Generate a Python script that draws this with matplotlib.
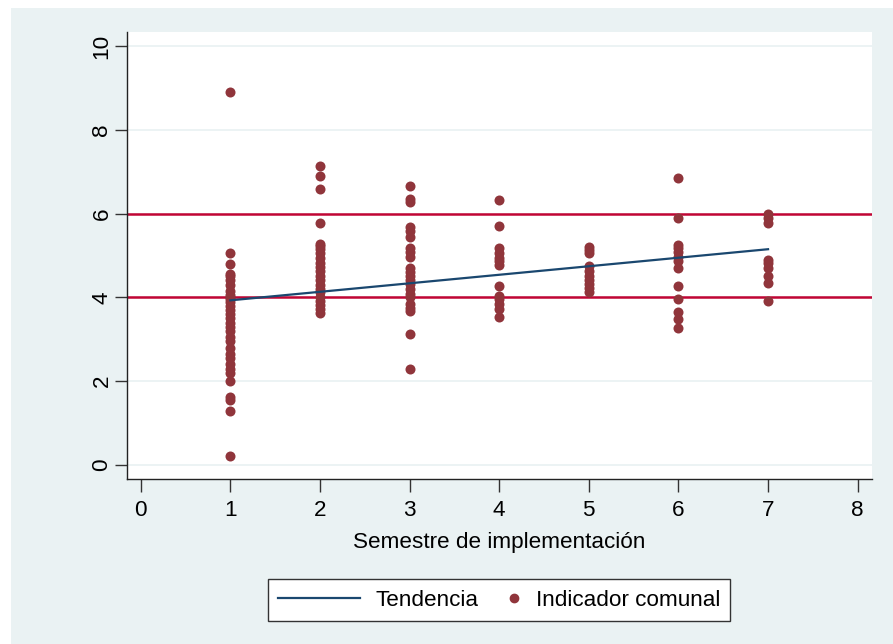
import matplotlib
matplotlib.use("Agg")
import matplotlib.pyplot as plt
from matplotlib.patches import Rectangle
from matplotlib.legend_handler import HandlerLine2D
from matplotlib.lines import Line2D

# indicator values per semester
sem1 = [8.9, 5.05, 4.8, 4.55, 4.5, 4.42, 4.3, 4.15, 4.05, 4.0, 3.95, 3.9, 3.8, 3.7,
        3.6, 3.5, 3.4, 3.3, 3.2, 3.05, 2.95, 2.8, 2.65, 2.55, 2.4, 2.3, 2.2, 2.0,
        1.62, 1.55, 1.28, 0.22]
sem2 = [7.13, 6.89, 6.58, 5.78, 5.28, 5.22, 5.15, 5.05, 4.95, 4.82, 4.72, 4.62,
        4.5, 4.42, 4.3, 4.2, 4.12, 4.02, 3.92, 3.82, 3.72, 3.62]
sem3 = [6.65, 6.36, 6.27, 5.68, 5.58, 5.43, 5.17, 5.08, 4.96, 4.69, 4.6, 4.52,
        4.42, 4.33, 4.2, 4.09, 4.0, 3.85, 3.75, 3.68, 3.13, 2.3]
sem4 = [6.33, 5.7, 5.17, 5.05, 4.95, 4.86, 4.78, 4.28, 4.04, 3.95, 3.85, 3.73, 3.53]
sem5 = [5.2, 5.12, 5.06, 4.74, 4.62, 4.52, 4.42, 4.32, 4.22, 4.12]
sem6 = [6.84, 5.89, 5.24, 5.17, 5.08, 4.96, 4.88, 4.69, 4.28, 3.97, 3.66, 3.49, 3.26]
sem7 = [5.98, 5.89, 5.77, 4.9, 4.81, 4.69, 4.52, 4.35, 3.92]
semesters = [1, 2, 3, 4, 5, 6, 7]

trend_x = [1, 7]
trend_y = [3.93, 5.15]
ref_lines = [4, 6]

xticks = list(range(0, 9))
yticks = [0, 2, 4, 6, 8, 10]

BG = "#eaf2f3"
MAROON = "#90353b"
NAVY = "#1a476f"
RED = "#c10534"
FS = 16.2

plt.rcParams["font.family"] = ["Liberation Sans", "DejaVu Sans"]


class RightMarker(HandlerLine2D):
    # stata puts the legend dot right next to its label
    def get_xdata(self, legend, xdescent, ydescent, width, height, fontsize):
        m = -xdescent + width - 0.25 * fontsize
        return [m - 1, m, m + 1], [m]


fig = plt.figure(figsize=(8.93, 6.44), dpi=100)
fig.patch.set_facecolor("white")
fig.patches.append(Rectangle((11 / 893, 0), 1, 1 - 8 / 644, transform=fig.transFigure,
                             facecolor=BG, edgecolor="none", zorder=-10))

ax = fig.add_axes([127 / 893, 1 - 479 / 644, 745 / 893, 447 / 644])
ax.set_facecolor("white")

for y in yticks:
    ax.axhline(y, color=BG, linewidth=1.3, zorder=0)
for y in ref_lines:
    ax.axhline(y, color=RED, linewidth=1.8, zorder=1)

ln, = ax.plot(trend_x, trend_y, color=NAVY, linewidth=1.6, zorder=3, label="Tendencia")
groups = [sem1, sem2, sem3, sem4, sem5, sem6, sem7]
for s, vals in zip(semesters, groups):
    ax.scatter([s] * len(vals), vals, s=52, color=MAROON, linewidths=0, zorder=2)

ax.set_xlim(-0.153, 8.16)
ax.set_ylim(-0.334, 10.334)
ax.set_xticks(xticks)
ax.set_yticks(yticks)
ax.tick_params(axis="both", direction="out", length=9, width=1, labelsize=FS, color="#333333")
ax.tick_params(axis="x", pad=6)
ax.tick_params(axis="y", pad=1.5)
plt.setp(ax.get_yticklabels(), rotation=90, va="center")
for side in ("top", "right"):
    ax.spines[side].set_visible(False)
for side in ("left", "bottom"):
    ax.spines[side].set_color("#222222")
    ax.spines[side].set_linewidth(1)

ax.set_xlabel("Semestre de implementación", fontsize=FS, labelpad=8)

dot = Line2D([], [], linestyle="none", marker="o", markersize=6, color=MAROON)
leg = fig.legend(handles=[ln, dot], labels=["Tendencia", "Indicador comunal"],
                 handler_map={dot: RightMarker(numpoints=1)},
                 loc="center", bbox_to_anchor=(499 / 893, 1 - 600 / 644), ncol=2,
                 fontsize=FS, frameon=True, fancybox=False, handlelength=3.64,
                 handletextpad=0.7, columnspacing=-1.8, borderpad=0.45, borderaxespad=0)
leg.get_frame().set_edgecolor("#333333")
leg.get_frame().set_linewidth(1)
leg.get_frame().set_facecolor("white")
leg.get_frame().set_alpha(1)

fig.savefig("out.png", dpi=100, facecolor=fig.get_facecolor())
